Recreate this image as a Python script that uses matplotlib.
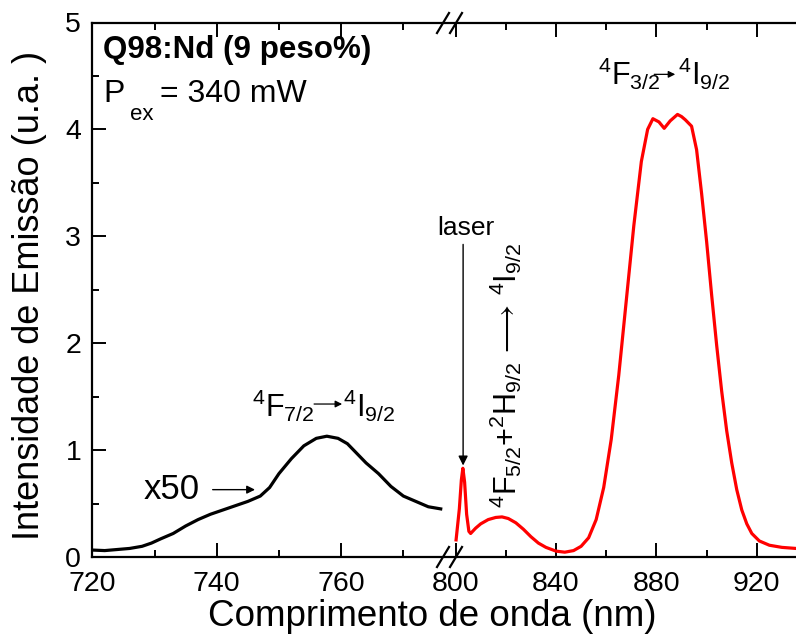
import numpy as np
import matplotlib
matplotlib.use("Agg")
import matplotlib.pyplot as plt
from matplotlib.lines import Line2D

plt.rcParams['font.family'] = ['Liberation Sans', 'DejaVu Sans']
plt.rcParams['mathtext.fontset'] = 'custom'
plt.rcParams['mathtext.rm'] = 'Liberation Sans'
plt.rcParams['mathtext.it'] = 'Liberation Sans:italic'
plt.rcParams['mathtext.bf'] = 'Liberation Sans:bold'

# ---- data ----
wl_black = [720, 722, 724, 726, 728, 729.5, 731, 733, 735, 737, 739, 741, 743, 745,
            747, 748.5, 750, 752, 754, 756, 757.7, 759.5, 761, 762, 764, 766, 768,
            770, 772, 774, 776]
int_black = [0.065, 0.06, 0.07, 0.08, 0.10, 0.13, 0.17, 0.22, 0.29, 0.35, 0.40, 0.44,
             0.48, 0.52, 0.57, 0.65, 0.78, 0.92, 1.04, 1.11, 1.13, 1.11, 1.06, 1.00,
             0.88, 0.78, 0.66, 0.57, 0.52, 0.47, 0.45]

wl_red = [800.2, 801.5, 802.3, 802.9, 803.6, 804.4, 805.3, 806.0, 808, 810, 813, 816,
          818.5, 821, 824, 827, 830, 833, 836, 840, 843.5, 847, 850, 853, 856, 859,
          862, 865, 868, 871, 874, 876.5, 878.6, 881, 883.1, 885.5, 888.4, 890, 891.5,
          894, 896, 898, 900, 902, 904, 906, 908, 910, 912, 914, 916, 918, 921, 925,
          930, 935.6]
int_red = [0.16, 0.45, 0.72, 0.83, 0.70, 0.40, 0.24, 0.22, 0.27, 0.31, 0.35, 0.37,
           0.375, 0.36, 0.32, 0.26, 0.19, 0.13, 0.09, 0.055, 0.045, 0.06, 0.10, 0.18,
           0.35, 0.65, 1.1, 1.7, 2.4, 3.1, 3.7, 4.0, 4.10, 4.07, 4.01, 4.08, 4.14, 4.12,
           4.09, 4.03, 3.81, 3.4, 2.95, 2.45, 1.98, 1.55, 1.18, 0.88, 0.63, 0.44, 0.31,
           0.22, 0.15, 0.11, 0.09, 0.08]

major_ticks = [720, 740, 760, 800, 840, 880, 920]
minor_ticks = [730, 750, 770, 820, 860, 900]
y_ticks = [0, 1, 2, 3, 4, 5]

# ---- broken-axis scale ----
B1, B2, R = 777.4, 797.55, 0.4035

def fwd(x):
    x = np.asarray(x, dtype=float)
    return np.where(x <= B1, x, np.where(x >= B2, B1 + (x - B2) * R, B1))

def inv(u):
    u = np.asarray(u, dtype=float)
    return np.where(u <= B1, u, B2 + (u - B1) / R)

W, H = 796, 643
fig = plt.figure(figsize=(W / 100, H / 100), dpi=100)
ax = fig.add_axes([92.3 / W, 1 - 557 / H, 703.7 / W, 534.5 / H])
ax.set_xscale('function', functions=(fwd, inv))
ax.set_xlim(720, 935.6)
ax.set_ylim(0, 5)

ax.plot(wl_black, int_black, color='black', lw=2.3, solid_joinstyle='round')
ax.plot(wl_red, int_red, color='#ff0000', lw=2.3, solid_joinstyle='round')

ax.set_xticks(major_ticks)
ax.set_xticks(minor_ticks, minor=True)
ax.set_xticklabels([str(t) for t in major_ticks])
ax.set_yticks(y_ticks)
ax.set_yticks(np.arange(0.5, 5, 1.0), minor=True)

for s in ['left', 'top', 'bottom']:
    ax.spines[s].set_linewidth(1.6)
ax.spines['right'].set_visible(False)
ax.tick_params(which='both', direction='in', top=True, right=False, width=1.4,
               labelsize=20.5)
ax.tick_params(which='major', length=10)
ax.tick_params(axis='x', which='major', pad=10)
ax.tick_params(axis='y', which='major', pad=8)
ax.tick_params(which='minor', length=5)

ax.set_xlabel('Comprimento de onda (nm)', fontsize=26.5)
ax.xaxis.set_label_coords(0.483, -0.078)
ax.set_ylabel('Intensidade de Emissão (u.a. )', fontsize=26)
ax.yaxis.set_label_coords(-0.064, 0.49)

# ---- annotations ----
ax.text(721.7, 4.74, 'Q98:Nd (9 peso%)', fontsize=22.6, fontweight='bold',
        ha='left', va='center')
ax.text(721.72, 4.259, 'P', fontsize=23, ha='left', va='baseline')
ax.text(726.0, 4.09, 'ex', fontsize=16, ha='left', va='baseline')
ax.text(730.9, 4.259, '= 340 mW', fontsize=23, ha='left', va='baseline')

ax.text(737.3, 0.63, 'x50', fontsize=25, ha='right', va='center')
ax.annotate('', xy=(746.6, 0.63), xytext=(738.9, 0.63),
            arrowprops=dict(arrowstyle='-|>', color='black', lw=1.0,
                            mutation_scale=12))

ax.text(804.2, 3.08, 'laser', fontsize=19, ha='center', va='center')
ax.annotate('', xy=(803.0, 0.83), xytext=(803.0, 2.95),
            arrowprops=dict(arrowstyle='-|>', color='black', lw=1.0,
                            mutation_scale=14))

# 4F7/2 -> 4I9/2
ax.text(755.8, 1.312, r'$^{4}$F$_{7/2}$', fontsize=22, ha='right', va='baseline')
ax.annotate('', xy=(760.6, 1.431), xytext=(755.2, 1.431),
            arrowprops=dict(arrowstyle='-|>', color='black', lw=0.9,
                            mutation_scale=10))
ax.text(760.3, 1.312, r'$^{4}$I$_{9/2}$', fontsize=22, ha='left', va='baseline')

# 4F3/2 -> 4I9/2
ax.text(881.5, 4.415, r'$^{4}$F$_{3/2}$', fontsize=22, ha='right', va='baseline')
ax.annotate('', xy=(888.6, 4.515), xytext=(878.0, 4.515),
            arrowprops=dict(arrowstyle='-|>', color='black', lw=0.9,
                            mutation_scale=10))
ax.text(888.6, 4.415, r'$^{4}$I$_{9/2}$', fontsize=22, ha='left', va='baseline')

ax.text(819.9, 1.70,
        r'$^{4}$F$_{5/2}$+$^{2}$H$_{9/2}$$\,\longrightarrow\,$$^{4}$I$_{9/2}$',
        fontsize=22, rotation=90, ha='center', va='center')

# ---- break marks ----
for cx in (443, 456):
    for cy in (23, 557):
        fig.add_artist(Line2D([(cx - 6) / W, (cx + 6) / W],
                              [1 - (cy + 10) / H, 1 - (cy - 10) / H],
                              color='black', lw=1.6))

fig.savefig('out.png', dpi=100)
